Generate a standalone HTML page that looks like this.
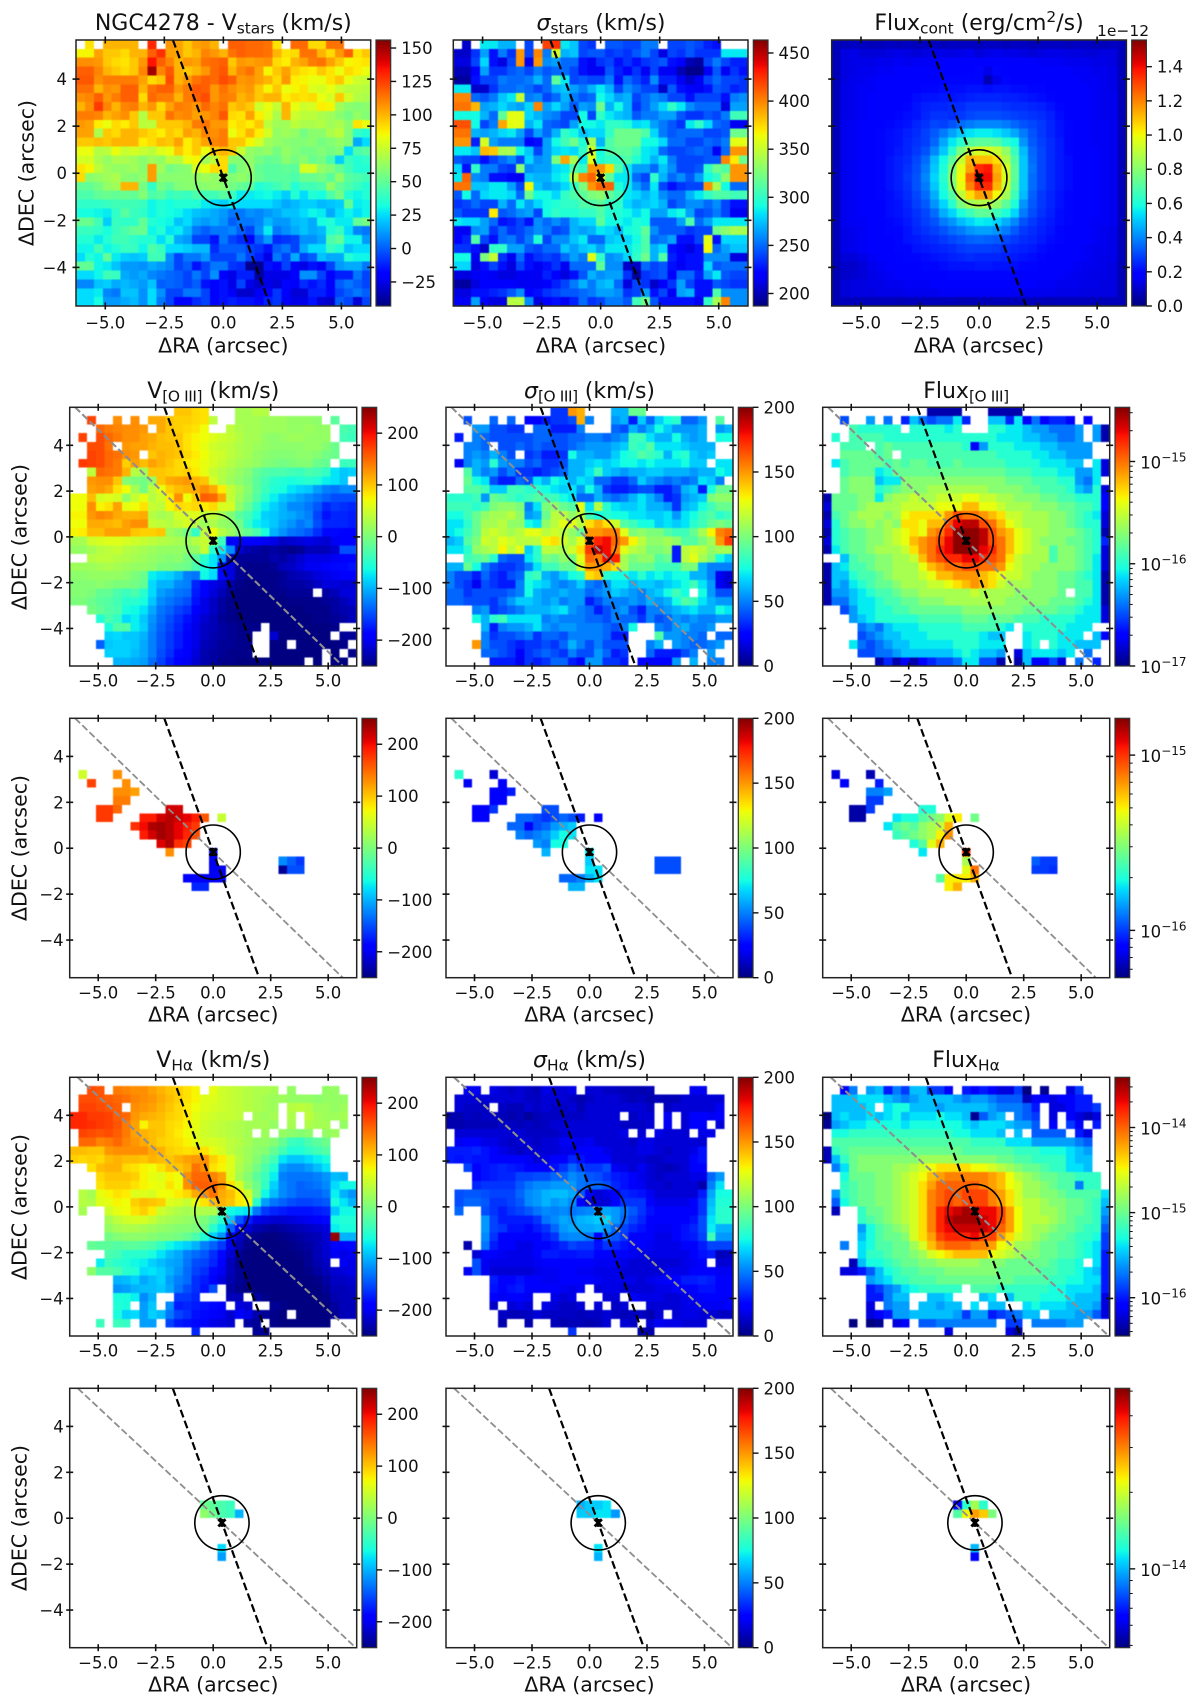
<!DOCTYPE html>
<html lang="en">
<head>
<meta charset="utf-8">
<title>NGC4278 kinematic maps</title>
<style>
html,body{margin:0;padding:0;background:#fff;}
svg{display:block;font-family:"DejaVu Sans","Liberation Sans",sans-serif;fill:#111;}
.title{font-size:22px;text-anchor:middle;}
.axis-label{font-size:20.5px;text-anchor:middle;}
.tick{font-size:16.5px;}
.sub{font-size:15.4px;}
.tight{letter-spacing:-0.4px;}
</style>
</head>
<body>
<svg id="figure" xmlns="http://www.w3.org/2000/svg" width="1200" height="1708" viewBox="0 0 1200 1708">
<defs id="defs"></defs>
<rect width="1200" height="1708" fill="#fff"/>
<g id="maps"></g>

<text class="title" x="223.3" y="30">NGC4278 - V<tspan class="sub" dy="3.5">stars</tspan><tspan dy="-3.5"> (km/s)</tspan></text>
<text class="title" x="601" y="30"><tspan font-style="italic">σ</tspan><tspan class="sub" dy="3.5">stars</tspan><tspan dy="-3.5"> (km/s)</tspan></text>
<text class="title" x="979" y="30">Flux<tspan class="sub" dy="3.5">cont</tspan><tspan dy="-3.5"> (erg/cm</tspan><tspan class="sub" dy="-8">2</tspan><tspan dy="8">/s)</tspan></text>

<text class="title" x="213.3" y="398">V<tspan class="sub tight" dy="3.5">[O III]</tspan><tspan dy="-3.5"> (km/s)</tspan></text>
<text class="title" x="589.5" y="398"><tspan font-style="italic">σ</tspan><tspan class="sub tight" dy="3.5">[O III]</tspan><tspan dy="-3.5"> (km/s)</tspan></text>
<text class="title" x="966" y="398">Flux<tspan class="sub tight" dy="3.5">[O III]</tspan></text>

<text class="title" x="213.3" y="1067">V<tspan class="sub" dy="3.5">Hα</tspan><tspan dy="-3.5"> (km/s)</tspan></text>
<text class="title" x="589.5" y="1067"><tspan font-style="italic">σ</tspan><tspan class="sub" dy="3.5">Hα</tspan><tspan dy="-3.5"> (km/s)</tspan></text>
<text class="title" x="966" y="1067">Flux<tspan class="sub" dy="3.5">Hα</tspan></text>

<text class="axis-label" x="223.3" y="352.5">ΔRA (arcsec)</text>
<text class="axis-label" x="601" y="352.5">ΔRA (arcsec)</text>
<text class="axis-label" x="979" y="352.5">ΔRA (arcsec)</text>
<text class="axis-label" x="213.3" y="1021.5">ΔRA (arcsec)</text>
<text class="axis-label" x="589.5" y="1021.5">ΔRA (arcsec)</text>
<text class="axis-label" x="966" y="1021.5">ΔRA (arcsec)</text>
<text class="axis-label" x="213.3" y="1691.5">ΔRA (arcsec)</text>
<text class="axis-label" x="589.5" y="1691.5">ΔRA (arcsec)</text>
<text class="axis-label" x="966" y="1691.5">ΔRA (arcsec)</text>

<text class="axis-label" transform="translate(33.5,173) rotate(-90)">ΔDEC (arcsec)</text>
<text class="axis-label" transform="translate(26.7,537) rotate(-90)">ΔDEC (arcsec)</text>
<text class="axis-label" transform="translate(26.7,848) rotate(-90)">ΔDEC (arcsec)</text>
<text class="axis-label" transform="translate(26.7,1207) rotate(-90)">ΔDEC (arcsec)</text>
<text class="axis-label" transform="translate(26.7,1518) rotate(-90)">ΔDEC (arcsec)</text>

<text x="1097" y="36" font-size="15.5">1e−12</text>
</svg>
<script>
/* ---------- tick values ---------- */
const xTickValues = [-5, -2.5, 0, 2.5, 5];
const xTickLabels = ['−5.0', '−2.5', '0.0', '2.5', '5.0'];
const yTickValues = [-4, -2, 0, 2, 4];
const yTickLabels = ['−4', '−2', '0', '2', '4'];
const vStarsTicks = [-25, 0, 25, 50, 75, 100, 125, 150];
const sigmaStarsTicks = [200, 250, 300, 350, 400, 450];
const fluxContTicks = [0, 20, 40, 60, 80, 100, 120, 140];
const gasVelocityTicks = [-200, -100, 0, 100, 200];
const gasSigmaTicks = [0, 50, 100, 150, 200];
const fluxO3Decades = [-17, -16, -15];
const fluxO3bDecades = [-16, -15];
const fluxHaDecades = [-16, -15, -14];
const fluxHabDecades = [-14];

/* ---------- map values: rows run top to bottom, blank = no data ---------- */
const vStars = [
[,90,,100,100,100,100,,130,,106,104,96,104,106,100,,118,118,116,116,114,90,,116,116,92,92,114,114,,,],
[86,86,104,96,96,92,100,100,118,128,104,104,96,100,110,106,100,114,118,116,116,114,100,90,92,114,114,100,92,106,118,90,96],
[108,108,106,96,92,90,96,106,134,118,110,100,106,104,114,116,118,96,106,104,106,108,92,88,100,104,112,114,104,96,86,88,90],
[118,118,110,100,96,92,96,110,150,110,120,100,96,100,106,116,120,100,110,114,104,86,96,104,94,90,88,96,90,83,92,88,83],
[120,120,108,112,112,112,112,104,92,96,122,100,106,114,118,116,122,118,106,108,104,100,92,106,88,86,83,83,90,96,83,76,74],
[115,115,100,108,106,118,118,100,114,118,118,106,112,120,118,106,114,108,104,106,96,86,96,83,86,90,80,78,83,76,72,72,70],
[108,110,118,106,112,118,118,92,116,112,112,100,112,118,122,106,112,110,100,104,96,100,100,88,92,90,92,83,78,96,78,70,68],
[100,108,126,110,100,110,112,100,106,92,104,112,110,106,116,110,114,96,100,96,76,83,74,100,83,76,78,88,86,65,60,58,60],
[112,112,110,100,104,108,96,70,96,96,114,108,110,104,106,110,120,92,90,104,88,80,68,100,76,72,72,68,65,60,55,62,58],
[106,104,88,83,92,88,96,72,72,96,96,96,100,112,114,106,106,88,92,88,96,72,65,65,72,68,68,70,65,68,60,90,83],
[104,104,68,96,92,100,100,96,92,88,96,92,104,100,110,108,112,83,90,100,88,78,62,65,62,55,60,60,68,72,58,38,35],
[96,96,98,96,100,100,100,88,92,98,96,104,88,96,104,110,112,96,96,86,78,65,62,60,58,58,60,55,58,62,58,15,25],
[83,83,70,72,83,75,78,75,72,80,83,96,88,96,83,96,100,96,75,62,60,62,55,62,58,55,55,58,55,58,25,45,48],
[78,78,68,62,68,68,65,60,65,62,72,70,83,86,65,72,92,60,58,62,55,50,52,60,55,60,52,55,45,22,40,35,38],
[90,86,72,65,62,62,65,60,105,65,55,58,60,78,83,92,92,45,58,62,50,48,48,50,48,78,78,62,58,50,42,35,35],
[92,60,62,65,68,60,58,62,105,60,60,60,60,62,65,62,62,58,62,58,52,48,48,48,45,52,52,55,48,62,48,45,42],
[50,50,55,62,65,100,100,55,38,55,50,58,60,58,60,62,60,55,50,48,35,38,42,48,35,42,42,45,62,50,45,40,35],
[45,45,50,52,50,52,50,58,45,48,40,42,40,45,42,42,48,40,28,28,30,32,28,22,35,25,35,32,45,55,35,30,35],
[38,38,38,40,42,42,42,40,30,35,32,35,35,35,28,25,22,28,25,25,25,25,20,15,18,22,22,18,20,22,50,28,30],
[32,32,30,28,38,48,40,38,30,35,32,30,25,20,18,15,12,5,5,10,8,12,15,20,20,25,30,28,15,25,30,25,30],
[52,52,42,22,40,38,38,50,35,32,30,20,25,15,12,15,10,0,5,5,8,18,12,12,18,20,15,32,35,28,28,50,55],
[40,40,38,32,40,45,50,52,30,35,25,28,18,5,0,5,5,8,0,-5,10,28,5,10,15,20,15,18,35,40,25,8,5],
[35,35,28,35,42,42,38,35,35,25,35,15,12,-5,-5,-15,5,-5,-10,-18,0,12,-10,-8,-5,10,10,15,45,50,30,30,12],
[30,30,42,30,35,40,40,30,45,40,25,25,22,18,18,-10,0,0,0,-5,-8,-15,0,5,-5,15,25,25,40,35,20,25,25],
[25,35,30,50,28,22,20,22,42,42,10,-5,5,5,12,-5,-5,-5,5,-5,-12,-25,5,-5,15,-5,0,20,15,15,35,30,30],
[50,50,30,28,20,12,12,10,15,12,8,-5,0,-15,-5,5,5,-8,-10,-40,-40,-15,-20,-5,-22,-25,-15,-22,-5,12,15,15,5],
[25,25,30,42,40,15,12,15,8,5,2,0,-5,5,-5,10,-20,-25,-12,-12,-38,-25,-25,-25,-20,10,10,-5,-20,-12,-12,5,-5],
[8,8,20,22,15,18,15,12,20,0,2,0,-5,0,-15,-18,-15,-25,-5,-25,-30,-25,-28,-18,-22,-10,-15,-10,-20,0,5,0,-5],
[25,25,28,8,5,20,20,10,25,10,-5,-5,5,5,-5,-20,-15,-22,-30,-30,-22,-18,-8,-20,-28,-28,-12,-12,-20,-5,0,5,0],
[25,25,32,12,12,15,18,10,25,5,-5,-18,-18,-10,-5,-18,-15,-12,-15,-15,-18,-12,-8,-22,-25,-25,-15,-28,-30,0,-5,-28,-5]
];
const sigmaStars = [
[,205,,285,285,270,270,,240,,420,425,285,275,240,235,,245,245,240,240,255,255,,240,240,245,240,230,225,,,],
[205,205,235,265,225,255,235,395,240,400,255,355,270,275,240,245,245,235,240,235,245,255,240,210,240,235,245,235,235,235,285,285,285],
[210,210,240,280,225,210,240,395,215,395,260,265,250,250,225,215,235,240,225,235,225,235,240,245,225,220,200,195,240,255,240,230,230],
[200,200,220,265,235,235,245,250,240,255,245,250,250,240,225,215,215,245,230,220,235,215,240,215,215,200,190,190,215,245,215,235,225],
[195,195,225,240,240,255,250,250,255,270,250,315,285,240,245,240,240,255,225,250,240,230,260,230,230,215,205,215,240,250,240,240,235],
[285,285,205,205,235,250,250,255,250,240,250,270,275,265,255,270,285,270,240,260,250,240,240,205,245,225,220,215,225,245,240,230,235],
[400,400,250,245,255,275,285,350,255,260,240,250,270,255,245,250,290,280,265,270,240,250,260,255,240,240,225,240,240,240,225,255,260],
[405,405,385,265,270,280,270,265,280,400,265,280,265,245,265,260,320,270,290,270,235,250,265,280,300,285,260,250,250,250,210,265,265],
[290,290,290,270,250,315,360,360,280,270,260,255,240,240,290,240,300,285,275,270,245,255,255,265,265,245,235,235,245,240,255,305,305],
[415,415,290,240,255,390,360,360,270,285,250,245,240,265,290,290,285,300,300,295,280,285,265,255,245,235,285,300,280,250,245,215,215],
[405,405,270,265,270,280,285,265,240,265,250,270,300,290,275,280,280,300,320,320,320,310,280,255,245,250,250,250,240,240,245,320,320],
[395,395,230,355,265,255,255,255,220,225,265,290,305,320,295,340,270,310,320,320,320,290,290,280,250,250,240,240,250,245,255,360,360],
[285,285,275,385,380,340,340,290,275,240,265,280,285,280,300,355,290,310,315,315,305,285,280,250,240,240,245,250,245,215,250,395,395],
[245,240,240,225,240,250,260,240,280,260,265,325,390,340,285,360,295,300,300,310,295,285,270,285,255,240,240,240,245,245,400,370,320],
[280,225,300,255,255,240,235,330,260,265,265,280,285,310,300,395,395,375,310,285,265,265,250,275,260,240,240,245,300,320,310,395,395],
[285,410,260,255,225,225,220,215,275,270,270,285,290,345,400,410,365,315,285,285,250,240,300,270,250,260,245,265,290,300,330,395,395],
[405,405,275,275,285,285,265,240,365,275,265,270,280,300,325,395,410,410,295,285,265,250,285,240,225,235,240,240,395,340,290,250,250],
[245,290,250,280,285,285,280,250,320,290,290,280,300,310,315,325,330,315,305,285,280,270,280,260,250,250,270,285,300,310,310,305,305],
[235,240,250,240,240,270,250,285,265,280,290,295,300,300,310,310,315,300,300,280,270,275,280,270,240,250,260,260,250,260,240,225,225],
[245,235,235,235,370,245,250,260,265,240,290,300,295,295,300,300,310,295,295,290,280,290,265,265,285,290,265,240,245,255,240,215,215],
[285,280,280,265,250,225,230,240,225,260,250,260,250,270,280,280,315,290,290,285,295,290,245,245,245,265,310,250,265,285,285,285,285],
[215,215,260,265,235,250,235,240,250,260,255,240,245,270,265,270,285,280,270,290,295,315,260,245,245,245,235,240,240,320,330,340,340],
[220,230,310,240,225,250,255,240,255,295,240,260,260,275,285,250,250,275,280,280,290,310,250,255,265,225,225,240,360,225,280,280,280],
[235,235,225,205,300,300,265,265,245,240,250,250,275,265,275,280,265,285,285,285,295,310,270,280,225,220,210,225,365,250,265,275,275],
[290,290,215,325,350,235,215,250,225,235,240,235,250,265,255,360,300,260,265,280,300,320,270,310,230,220,225,225,260,260,260,210,210],
[280,280,210,225,240,225,210,240,225,215,225,235,215,250,250,250,315,260,260,205,205,250,240,245,225,215,225,225,280,245,250,250,250],
[210,210,215,220,215,210,210,215,215,215,230,220,210,225,245,270,260,265,265,235,195,235,240,245,220,250,250,230,265,285,245,240,240],
[195,195,210,220,220,220,220,215,215,215,220,230,240,255,270,255,270,275,250,210,240,235,205,220,235,265,240,225,225,245,240,235,235],
[210,210,225,225,230,235,245,260,220,225,235,240,245,245,250,255,265,265,260,235,240,265,225,240,215,265,270,225,225,310,260,260,260],
[215,215,265,220,210,210,345,345,260,210,220,225,215,230,250,235,240,255,255,245,305,320,245,225,225,225,225,215,300,340,400,260,260]
];
const fluxCont = [
[7,8,9,9,8,8,9,8,9,8,9,9,8,9,9,9,8,9,9,8,9,9,8,9,9,9,8,9,9,8,8,9,8],
[8,13,14,12,12,12,13,14,13,12,13,14,14,13,14,15,12,14,15,14,14,13,12,13,14,14,13,13,12,12,13,13,8],
[8,13,14,14,14,15,15,16,15,16,16,16,17,17,17,18,18,18,18,18,17,17,17,16,16,16,15,15,15,14,14,13,8],
[8,13,14,15,15,16,16,17,17,18,18,18,19,19,19,19,20,14,20,19,19,19,18,18,18,17,17,16,16,15,15,14,8],
[8,13,15,15,16,17,17,18,18,19,19,19,20,20,20,20,20,7,15,20,19,19,19,18,18,18,17,17,16,16,15,14,8],
[8,14,15,16,16,17,18,18,19,19,20,20,21,21,21,22,22,21,22,22,21,21,20,20,19,19,18,17,17,16,15,14,8],
[8,14,15,16,17,18,18,19,19,21,22,22,23,22,23,24,25,25,25,24,24,23,22,21,20,19,18,18,17,16,15,15,8],
[8,14,15,16,17,18,19,19,20,22,24,25,25,26,26,28,28,28,28,27,26,26,25,24,22,20,19,18,17,16,15,15,8],
[8,14,15,16,17,18,19,20,21,22,25,27,27,26,28,30,31,31,31,30,29,28,27,26,24,21,19,18,17,16,15,15,8],
[8,15,16,17,18,19,20,21,22,25,27,30,29,32,36,38,40,40,40,38,35,32,30,28,25,22,20,18,17,16,16,15,8],
[8,15,16,17,18,20,21,22,24,26,29,33,38,44,50,54,56,56,54,50,45,38,32,28,25,22,20,19,17,16,16,15,8],
[8,15,16,17,18,20,21,22,25,27,29,35,45,55,62,70,72,72,70,62,58,42,33,29,26,23,20,19,18,16,16,15,8],
[8,15,16,17,18,20,21,23,25,28,32,40,50,62,78,90,95,95,92,82,65,48,35,30,26,23,20,19,18,17,16,15,8],
[8,15,16,17,19,20,22,24,26,30,36,48,58,72,92,112,110,110,105,88,70,50,36,30,26,23,21,19,18,17,16,15,8],
[8,15,16,18,19,20,22,24,27,31,38,50,60,78,98,115,135,138,112,95,72,50,37,30,26,23,21,19,18,17,16,15,8],
[8,15,16,18,19,20,22,24,28,32,40,52,62,80,100,125,142,140,115,95,72,50,36,30,26,23,21,19,18,17,16,15,8],
[8,15,16,17,19,20,22,24,27,32,38,50,60,78,98,120,135,135,112,92,70,50,36,30,26,23,21,19,18,17,16,15,8],
[8,15,16,17,18,20,21,23,26,30,36,46,58,70,90,105,115,115,100,85,66,48,34,28,25,22,20,19,18,17,16,15,8],
[8,15,16,17,18,19,21,22,25,29,33,42,52,62,78,85,88,88,82,72,60,42,33,28,25,22,20,19,18,17,16,15,8],
[8,15,16,17,18,19,21,22,24,27,30,36,46,52,60,66,72,72,66,60,52,38,31,27,24,21,20,19,17,17,16,15,8],
[8,15,16,16,18,19,20,21,23,26,29,32,38,42,48,52,56,55,52,46,40,32,28,25,23,21,20,18,17,16,16,15,8],
[8,14,15,16,17,18,20,20,22,25,27,29,32,36,38,42,44,44,42,38,33,28,26,24,22,20,19,18,17,16,15,14,8],
[8,14,15,16,17,18,19,20,22,23,25,26,28,30,32,34,35,34,33,30,28,26,25,23,21,20,19,18,17,16,15,14,8],
[8,14,15,16,17,18,19,20,20,22,23,24,25,26,28,29,29,29,28,26,25,24,23,21,20,19,18,17,16,15,15,14,8],
[8,12,12,14,16,17,18,19,20,20,21,22,23,24,25,26,25,25,25,24,23,22,21,20,19,18,18,17,16,15,14,14,8],
[7,10,10,12,15,16,17,18,18,19,20,20,21,22,22,22,23,23,22,22,21,20,20,19,18,18,17,16,15,15,14,13,7],
[7,10,11,12,14,15,16,17,17,18,18,19,19,20,20,20,20,20,20,20,19,19,18,18,17,17,16,15,15,14,14,13,7],
[7,12,13,13,14,14,15,15,16,16,16,17,17,18,18,18,18,18,18,18,17,17,17,16,16,15,15,15,14,14,13,13,7],
[7,12,13,13,13,14,14,14,15,15,15,15,16,16,16,16,16,16,16,16,16,15,15,15,15,14,14,14,13,13,13,13,7],
[7,8,8,8,8,8,8,7,8,8,8,8,8,8,7,7,8,7,8,8,8,8,8,8,7,8,8,8,8,8,7,8,8]
];
const vO3 = [
[,,,,,,,,,,,,100,100,90,85,,,,25,25,35,35],
[,,170,,,130,,130,,115,115,100,95,95,90,85,40,,,25,25,25,20,20,20,15,15,15,10,,-20],
[,,,150,140,135,130,130,125,,115,100,95,90,85,70,,,40,30,25,25,20,20,20,15,15,20,15,15,,-30,-35],
[,170,,165,150,140,130,130,120,115,105,100,100,85,75,70,60,50,45,35,25,25,15,10,15,20,20,15,15,15,,-35,-40],
[,,165,165,145,,125,120,120,110,105,105,100,85,75,65,50,45,40,30,25,20,15,10,10,10,10,15,15,5,-10,,],
[,,170,165,150,145,130,125,,100,110,105,100,90,80,70,55,50,40,30,25,15,10,5,5,5,10,10,5,-5,-10,,],
[,175,170,165,150,140,95,120,105,120,110,100,90,80,75,65,55,45,35,25,20,15,5,0,-5,0,5,5,-10,-15,,-40,-40],
[,,40,150,145,140,110,35,25,100,100,95,90,95,80,65,45,35,25,15,5,-15,-25,-30,-30,-35,-40,-30,-35,-45,-75,-90,-85],
[,,125,130,130,100,5,0,-5,15,100,115,120,125,110,100,55,35,20,10,0,-20,-35,-50,-55,-60,-55,-50,-55,-70,-75,-90,],
[,,120,125,115,85,70,25,-5,40,65,95,105,110,115,130,115,80,45,25,5,-20,-40,-55,-60,-75,-85,-90,-110,-125,-130,-120,-120],
[70,70,105,55,60,55,15,45,65,35,50,80,130,70,95,155,150,120,45,20,0,-25,-50,-70,-90,-100,-110,-120,-130,-140,-150,-150,-150],
[70,70,130,75,85,120,65,70,85,45,40,75,90,85,90,80,90,55,55,10,-15,-45,-70,-85,-100,-120,-120,-130,-145,-170,-160,-165,-170],
[75,75,125,135,130,115,110,110,115,35,25,30,55,55,60,40,40,25,5,-20,-35,-60,-85,-90,-100,-105,-115,-125,-155,-180,-170,-170,-175],
[70,70,115,115,110,105,120,130,130,45,40,35,45,55,35,20,30,15,10,-5,-45,-70,-80,-90,-105,-115,-130,-120,-150,-170,-170,-170,-175],
[75,80,105,105,120,120,120,100,95,95,100,20,10,-5,-45,40,70,35,20,0,-15,-30,-60,-100,-115,-130,-135,-145,-165,-185,-185,-190,-190],
[25,25,50,55,60,60,55,50,45,40,35,30,25,20,35,45,20,-40,-190,-195,-190,-195,-200,-205,-220,-215,-210,-205,-210,-215,-200,-190,-190],
[15,15,25,35,40,45,35,30,25,20,15,15,15,10,15,45,-50,-70,-120,-215,-230,-235,-240,-235,-240,-245,-240,-225,-225,-225,-215,-150,-150],
[,,35,40,40,35,30,25,20,15,10,5,10,-5,-20,-50,-75,-115,-235,-240,-240,-240,-240,-230,-235,-225,-215,-205,-205,-205,-200,-195,-190],
[20,20,20,25,30,25,20,15,15,10,0,0,-5,-10,-30,-60,-75,-190,-210,-240,-245,-245,-245,-240,-225,-220,-210,-200,-200,-190,-185,-185,-180],
[10,10,15,15,15,15,10,0,-10,-70,-80,-85,-100,-125,-130,-65,-80,-185,-210,-240,-245,-245,-245,-245,-240,-230,-225,-220,-210,-205,-200,-195,-190],
[5,5,5,10,5,0,0,-5,-15,-80,-100,-100,-120,-125,-170,-190,-205,-215,-235,-245,-250,-250,-245,-245,-240,-235,-235,-230,-220,-210,-210,-215,-215],
[5,5,0,-15,-15,-30,-40,-30,-50,-80,-110,-120,-130,-135,-175,-195,-210,-225,-240,-250,-250,-250,-250,-245,-245,-240,-240,-240,,-235,-225,-210,-210],
[0,0,-10,-20,-25,-35,-50,-50,-60,-90,-120,-130,-140,-150,-180,-205,-220,-235,-245,-250,-250,-250,-250,-250,-250,-245,-245,-245,-245,-240,-235,-225,-215],
[,,-5,-15,-25,-30,-60,-65,-75,-105,-130,-140,-155,-165,-195,-205,-220,-235,-245,-250,-250,-250,-250,-250,-250,-250,-250,-245,-245,-245,-235,-230,-225],
[,,,-55,-30,-45,-80,-70,-90,-115,-135,-150,-165,-180,-200,-215,-225,-240,-245,-250,-250,-250,-250,-250,-250,-250,-250,-250,-245,-245,-240,-235,-225],
[,,,,-60,-25,-25,-70,-85,-120,-140,-155,-170,-185,-205,-220,-225,-235,-240,-245,-245,-245,,-250,-250,-250,-250,-250,-250,-250,-245,,],
[,,,,-85,-80,-90,-90,-100,-125,-145,-160,-175,-190,-205,-220,-230,-235,-240,-245,-245,,,-215,-250,-250,-250,-250,-250,-250,,-240,-240],
[,,,-140,-90,-85,-85,-90,-105,-125,-145,-160,-175,-190,-205,-225,-230,-240,-240,-245,-245,,,-250,-250,,-250,-250,-250,-250,-250,-245,],
[,,,,-85,-85,-85,-95,-105,-125,-150,-165,-185,-195,-210,-230,-235,-240,-245,-245,-245,,,-250,-250,-250,-250,-250,-250,,-250,,-245],
[,,,,,-100,-100,-105,-110,-135,-155,-175,-190,-200,-215,-230,-235,-245,-245,-250,-250,-250,-250,-250,-250,-250,-250,,-250,,-250,-250,]
];
const sigmaO3 = [
[,,,,,,,,,,,,35,35,150,145,,,,60,60,95,95],
[,,40,,,45,,45,,25,25,30,35,35,40,145,50,,,55,60,30,65,45,65,75,80,45,45,55,,90,],
[,,,55,55,40,40,35,35,,45,45,30,30,30,50,,,,45,40,60,50,60,75,65,55,55,55,60,,55,60],
[,30,,50,45,40,40,40,40,40,45,45,40,40,45,45,50,50,45,50,55,85,85,70,60,60,75,60,55,60,,75,75],
[,,50,50,45,,40,40,45,40,45,40,40,40,45,50,55,55,55,60,65,85,80,90,70,70,70,65,60,60,60,,],
[,,50,55,50,60,50,40,,35,40,30,30,35,75,60,60,55,55,65,75,80,90,85,80,60,75,80,65,60,65,,],
[,20,50,60,55,80,55,50,50,40,45,35,35,40,60,60,65,70,65,70,75,75,70,75,70,70,70,75,65,65,,70,70],
[,,90,60,50,55,40,50,35,35,30,35,40,45,60,60,70,85,65,60,55,60,60,65,65,60,60,60,55,60,60,75,70],
[,,95,75,70,40,30,30,45,40,70,60,75,70,60,70,65,45,45,35,35,45,65,55,50,45,50,45,50,70,65,50,],
[,,90,90,85,65,65,85,85,80,80,75,70,65,70,55,75,60,35,30,30,35,40,40,30,30,40,60,65,30,75,95,95],
[80,80,80,85,55,95,90,85,80,85,90,85,85,75,70,45,45,60,50,45,50,60,70,60,50,30,35,55,60,65,100,105,105],
[85,85,85,80,85,100,105,105,100,50,70,100,105,95,90,125,70,115,80,70,65,65,70,60,60,55,35,60,65,75,85,95,95],
[75,75,85,95,105,110,110,115,105,55,60,95,115,115,105,115,85,75,80,75,75,70,70,65,65,70,55,70,75,85,90,80,85],
[70,70,80,95,110,110,115,105,105,75,70,105,115,125,125,115,135,145,135,120,90,85,75,75,65,70,65,70,80,85,95,100,95],
[70,75,85,95,115,120,115,110,115,125,125,115,120,115,105,95,150,150,155,155,125,100,105,100,100,90,85,85,95,110,130,155,160],
[60,65,90,100,120,115,125,120,115,115,115,130,135,120,110,125,160,175,180,160,150,130,115,105,105,110,105,90,90,100,110,150,170],
[70,70,80,105,110,115,130,115,125,65,80,115,115,110,120,135,170,190,180,155,125,115,110,100,100,105,30,115,120,115,105,110,110],
[,,85,90,95,80,45,40,40,70,80,100,95,105,100,125,160,155,180,175,110,100,105,105,90,95,30,115,125,110,100,75,65],
[60,60,95,75,50,40,35,35,40,50,70,85,85,95,95,120,150,150,145,135,110,95,95,95,85,85,85,100,100,60,50,50,50],
[50,40,40,30,45,35,30,40,45,80,85,60,55,65,75,80,135,140,80,75,75,70,80,70,75,70,75,75,60,60,50,20,15],
[50,40,35,20,40,35,30,30,50,75,70,65,55,50,55,65,50,45,55,70,70,60,65,65,60,65,70,75,85,70,55,20,15],
[45,45,35,40,40,40,40,45,50,75,60,55,55,60,55,55,45,50,55,65,60,55,50,60,65,75,85,75,,75,55,40,40],
[45,45,40,40,40,35,45,55,65,65,60,55,60,50,55,55,30,40,50,50,50,55,50,60,55,60,75,90,85,70,60,55,55],
[,,,50,55,35,40,45,50,60,60,60,65,70,55,50,45,30,40,50,55,40,30,50,50,55,60,65,70,60,60,75,70],
[,,,75,60,80,85,70,70,70,70,50,55,50,50,50,45,45,40,50,45,45,35,50,40,45,55,50,55,50,50,55,55],
[,,,,60,30,50,55,55,60,70,55,50,55,55,50,50,50,45,40,50,75,,,50,45,55,60,50,50,55,,],
[,,,,50,35,40,40,45,50,35,45,45,40,50,50,50,50,45,30,30,,,,90,55,55,50,50,45,,45,45],
[,,,150,50,40,40,35,30,35,35,40,35,45,60,50,40,50,40,40,40,,,50,60,,55,50,45,45,50,55,],
[,,,,45,45,40,35,25,35,40,45,40,35,50,40,40,55,45,30,35,,,45,30,30,30,40,50,,55,,],
[,,,,,30,30,30,20,35,30,35,45,45,30,25,55,55,35,35,30,,25,25,25,25,55,,60,,50,50,]
];
const fluxO3 = [
[,,,,,,,,,,,,1,1,1,1,,,,1,1,1,1],
[,,5,,,7,,6,,4,8,6,5,6,6,9,4,,,8,8,4,9,3,6,3,4,4,3,,3,,],
[,,,11,10,10,10,10,10,,10,10,10,10,9,10,,,,10,10,9,9,8,7,7,6,6,6,7,,7,1],
[,10,,11,11,11,11,10,10,10,10,10,10,10,10,10,10,10,10,10,9,9,9,8,8,7,7,6,6,7,,7,1],
[,,11,11,11,,11,12,11,11,11,11,11,11,11,11,10,3,7,10,10,10,9,9,9,8,8,7,7,7,7,,],
[,,12,12,12,12,11,12,,11,11,11,11,11,11,11,11,11,11,11,10,10,10,10,9,9,8,8,7,7,7,,],
[,9,11,12,12,12,12,11,12,11,12,12,11,11,11,12,11,11,11,11,11,10,10,10,10,9,9,9,8,8,,9,2],
[,,11,12,12,12,9,10,12,12,12,12,12,12,12,12,12,12,12,12,12,11,11,11,10,10,10,9,9,7,7,9,2],
[,,12,13,13,13,8,9,9,13,13,13,13,13,13,13,13,13,13,13,13,12,12,12,11,11,11,10,10,7,6,9,],
[,,12,13,13,13,10,11,12,13,13,13,14,14,14,14,14,14,14,13,13,13,13,12,12,11,11,11,10,8,7,10,2],
[1,12,12,12,13,13,9,13,14,14,15,14,14,15,15,15,16,16,15,15,14,14,13,13,13,12,12,11,11,10,10,10,3],
[2,12,12,12,13,14,14,14,14,15,15,15,15,16,16,16,18,18,16,16,15,14,14,14,13,13,13,12,12,11,11,10,3],
[1,11,12,13,14,14,14,13,14,16,17,17,17,17,19,21,20,20,19,18,17,15,15,14,14,14,13,13,12,11,10,9,2],
[2,10,12,13,13,14,13,14,13,17,17,16,18,18,21,23,24,24,21,20,18,16,15,14,14,14,13,13,12,11,10,10,2],
[1,10,11,12,12,13,13,14,15,16,17,16,19,20,22,25,25,25,24,21,19,18,16,15,14,14,13,13,13,12,11,10,1],
[2,10,11,12,12,13,13,14,15,16,18,19,20,21,23,25,25,25,24,21,20,18,16,15,14,13,13,13,12,12,11,10,4],
[1,9,11,12,12,13,14,14,14,15,17,19,20,22,23,25,25,25,23,22,20,18,16,15,14,14,11,13,13,12,11,10,2],
[,,8,11,12,12,13,13,14,14,15,18,20,21,22,22,23,23,22,21,20,17,15,14,14,14,11,13,13,12,11,9,2],
[1,8,9,11,11,12,13,13,14,14,14,16,18,19,20,20,21,21,20,20,19,16,15,14,14,13,13,13,13,12,11,9,2],
[1,8,8,10,11,11,12,13,14,14,14,15,16,18,18,19,19,19,18,17,16,15,15,14,13,13,13,12,12,11,10,9,1],
[1,8,7,9,10,11,12,12,13,14,14,14,15,15,16,17,18,19,18,17,15,14,14,14,13,13,13,12,12,11,11,9,1],
[1,7,7,8,9,10,11,11,12,13,13,14,14,14,14,14,14,15,14,14,14,14,13,13,13,13,13,12,,11,11,9,1],
[1,6,6,8,9,9,10,11,11,12,12,13,13,13,14,14,14,14,14,14,14,13,13,13,13,13,12,12,12,11,10,9,1],
[,,5,7,9,9,10,10,11,11,12,12,12,12,12,12,13,13,13,13,13,13,13,12,12,12,12,11,11,10,9,9,2],
[,,,7,8,9,10,10,10,10,10,11,11,11,11,11,12,12,12,11,12,12,11,11,11,10,10,10,10,9,9,9,2],
[,,,,6,7,6,8,9,9,9,10,10,10,10,10,11,11,11,11,10,9,,10,10,10,10,10,9,9,9,,],
[,,,,5,6,7,8,8,9,9,9,10,10,10,10,10,10,9,8,8,,,9,10,10,10,9,9,9,,8,3],
[,,,9,6,5,6,7,8,8,9,9,9,9,9,10,10,10,9,9,9,,,9,10,,10,9,9,8,8,8,],
[,,,,5,5,6,6,7,8,8,8,8,8,8,9,10,9,8,8,7,,2,8,9,9,9,8,9,,6,,],
[,,,,,,1,4,1,3,1,3,4,5,5,6,9,9,5,5,1,,1,8,3,3,5,2,,6,,4,]
];
const vO3Broad = [
[],[],[],[],[],[],
[,50,,,,130],
[,,170,,,,130],
[,,,,,130,130,120],
[,,,,,140,140],
[,,,175,175,150,,,,,,215,215],
[,,,175,175,,,,190,190,215,225,215,205,190,160,,45],
[,,,,,,,180,200,230,235,225,205,190,175],
[,,,,,,,,190,215,235,225,205,185,165],
[,,,,,,,,,,210,230,180,170],
[,,,,,,,,,,,130,,,,,-190],
[,,,,,,,,,,,,,,,,-200,,,,,,,,-120,-140,-160],
[,,,,,,,,,,,,,,,,-200,-200,,,,,,,-240,-150,-150],
[,,,,,,,,,,,,,-190,-190,-200,-200,-190],
[,,,,,,,,,,,,,,-170,-170]
];
const sigmaO3Broad = [
[],[],[],[],[],[],
[,80,,,,15],
[,,20,,,,25],
[,,,,,25,25,30],
[,,,,,25,25],
[,,,25,25,35,,,,,,40,40],
[,,,25,25,,,,45,45,40,35,40,45,40,30,,25],
[,,,,,,,45,45,25,40,45,55,60,65],
[,,,,,,,,50,45,50,55,65,75,70],
[,,,,,,,,,,55,50,75,75],
[,,,,,,,,,,,60,,,,,70],
[,,,,,,,,,,,,,,,,65,,,,,,,,40,40,40],
[,,,,,,,,,,,,,,,,70,70,,,,,,,40,40,40],
[,,,,,,,,,,,,,45,45,50,60,70],
[,,,,,,,,,,,,,,60,60]
];
const fluxO3Broad = [
[],[],[],[],[],[],
[,8.5,,,,8],
[,,9,,,,9.5],
[,,,,,11,11,11.5],
[,,,,,10,10],
[,,,7.8,7.8,10,,,,,,13,13],
[,,,7.8,7.8,,,,12.5,13,13,14,14.5,15,16.5,17,,14.5],
[,,,,,,,12.5,14,14.5,14,15,15.5,16,18],
[,,,,,,,,13.5,14,14.5,15,15.5,17,18.5],
[,,,,,,,,,,13,14,16.5,18],
[,,,,,,,,,,,12.5,,,,,20],
[,,,,,,,,,,,,,,,,15.5,,,,,,,,10.5,10,10],
[,,,,,,,,,,,,,,,,16.5,19,,,,,,,10,10,9.8],
[,,,,,,,,,,,,,14,17,17,17,18],
[,,,,,,,,,,,,,,17,18]
];
const vHa = [
[],
[,,165,160,,140,135,130,130,120,110,100,95,85,75,,65,50,45,40,35,30,30,25,,15,,,,15,15,,],
[,165,165,160,155,150,145,135,130,125,115,105,95,85,75,60,60,50,45,40,35,30,25,20,20,15,15,15,10,15,15,15,],
[,170,170,165,160,155,,130,125,120,110,100,90,80,70,60,55,50,45,40,35,30,25,20,,35,40,35,20,20,15,20,],
[185,185,175,175,170,155,150,125,115,110,105,95,90,80,65,55,50,45,45,40,,25,20,25,,30,,40,25,20,20,25,],
[185,185,180,175,170,160,140,120,75,100,100,90,85,75,65,50,45,40,35,30,25,25,25,15,,25,,30,25,25,,15,],
[,170,165,160,165,155,140,120,110,105,100,90,80,70,60,50,45,40,35,30,25,,20,,15,10,5,10,,15,20,,],
[,150,150,135,140,150,135,125,115,105,95,90,85,75,65,55,55,50,40,35,25,15,15,5,-15,-40,-45,-30,-20,-10,,,],
[105,105,100,100,125,130,130,130,130,115,110,95,90,85,90,85,65,55,40,30,20,10,5,-15,-35,-55,-55,-45,-35,-25,,,],
[95,90,95,90,105,110,105,105,100,110,105,100,110,120,125,130,95,80,60,35,20,5,-15,-35,-75,-90,-90,-80,-70,-60,,,],
[,,85,105,110,110,90,85,75,70,85,100,100,110,145,130,85,75,60,30,15,-5,-30,-55,-110,-120,-120,-110,-95,-75,,,],
[,,,90,100,100,100,95,75,65,60,75,70,130,150,150,135,120,60,25,5,-20,-40,-70,-125,-130,-130,-130,-125,-115,-95,-100,],
[,,,85,95,95,95,85,75,70,65,85,70,130,155,155,150,125,85,55,15,-10,-45,-85,-120,-130,-140,-135,-130,-120,-80,-65,-65],
[,35,25,65,75,85,80,60,60,55,70,70,80,90,115,130,145,115,105,80,50,-5,-65,-95,-120,-130,-140,-140,-140,-130,-70,-100,-115],
[,35,30,60,65,75,70,95,105,100,95,60,55,45,65,85,105,110,100,80,70,-50,-110,-130,-140,-150,-155,-155,-150,-145,-60,-75,-100],
[,25,,,50,65,70,85,95,80,50,40,30,25,30,30,30,-5,-65,-70,-75,-130,-160,-170,-175,-180,-180,-180,-175,-170,-90,-65,-65],
[,,,,25,40,50,55,55,45,30,25,20,15,10,0,-20,-50,-90,-145,-175,-205,-210,-215,-215,-210,-205,-200,-195,-185,-60,-55,-55],
[,,,,15,25,30,30,25,20,15,10,5,5,0,-10,-50,-75,-140,-190,-215,-230,-235,-240,-235,-230,-225,-220,-215,-210,-70,-60,-60],
[,,,,-5,5,10,10,10,5,0,0,-5,-15,-30,-55,-85,-115,-195,-220,-240,-245,-250,-250,-245,-240,-235,-230,-225,-215,240,-100,-100],
[,,-15,-20,-20,-25,-20,-20,-25,-30,-45,-65,-75,-85,-100,-125,-140,-160,-205,-230,-245,-250,-250,-250,-250,-245,-240,-235,-225,-215,-190,-190,-185],
[,,,,-30,-35,-50,-50,-50,-60,-75,-95,-105,-125,-135,-145,-165,-185,-215,-240,-250,-250,-250,-250,-250,-250,-245,-240,-225,-215,-200,-205,-200],
[,,,-70,-40,-50,-55,-65,-70,-85,-95,-105,-110,-130,-150,-155,-170,-195,-225,-245,-250,-250,-250,-250,-250,-250,-250,-240,-230,-220,,-200,-205],
[,,10,-25,-25,-30,-50,-55,-80,-75,-85,-100,-115,-135,-155,-165,-185,-200,-225,-240,-250,-250,-250,-250,-250,-250,-250,-245,-235,-225,-215,-210,-205],
[,,,,,-100,-95,-85,-105,-95,-85,-110,-125,-135,-165,-175,-190,-210,-230,-240,-250,-250,-250,-250,-250,-250,-250,-250,-245,-235,-220,-220,-215],
[,,,,,-115,-110,-100,-95,-95,-90,-105,-130,-150,-165,-180,-150,,-235,-245,-250,-250,-250,-250,-250,-250,-250,-250,-250,-240,-225,-225,-220],
[,,,,,-60,-60,-70,-120,-100,,,-160,-160,-170,,,,-225,-225,,-235,-245,-250,-250,-250,-250,-250,-250,-245,-230,-225,-225],
[,,,,,-55,-60,,-110,-90,,-120,-175,-170,-175,-180,-185,-190,,-210,-215,,,-240,-245,-250,-250,-250,-250,-250,-235,-225,-225],
[,,,,,-60,-85,-80,-110,-85,-95,-130,-155,-165,-180,-185,-190,-200,-215,-195,-205,-230,-240,-245,-250,,-250,-250,-250,-250,-240,-225,-225],
[,,,-40,,-40,-45,,-110,-110,,-155,-175,-180,-185,-190,-205,-210,-215,,-235,-240,,-245,-250,-250,-250,-250,-250,-250,,,],
[,,,,,,,,,,,,,,-170,,,,,,,-240,-240]
];
const sigmaHa = [
[],
[,,20,20,,18,15,12,15,12,10,18,15,15,18,,15,15,12,12,10,10,8,10,,,,,20,20,,,],
[,15,15,15,15,15,15,15,15,12,12,15,15,15,12,8,12,15,15,15,12,10,12,8,10,10,10,15,15,15,15,15,],
[,15,12,12,12,,12,10,10,15,12,15,12,12,15,10,15,15,15,15,15,15,15,12,,12,15,15,15,15,15,20,],
[8,8,12,10,12,12,10,8,10,5,10,12,12,12,12,12,15,15,15,15,,12,15,15,,20,,15,25,25,20,25,],
[8,8,10,10,10,10,12,12,10,12,10,12,15,15,15,15,15,15,15,15,12,12,12,15,,20,,15,25,25,,15,],
[,15,15,15,15,15,15,15,15,12,12,12,12,15,15,15,15,15,15,15,18,,15,,18,15,15,15,,18,18,,],
[,20,25,22,18,18,15,12,15,15,12,15,15,20,20,18,20,15,15,15,15,12,18,18,15,15,15,15,15,15,,,],
[30,30,30,32,28,22,18,15,12,15,15,15,15,18,18,22,25,25,18,15,15,15,18,18,15,12,15,15,18,28,,,],
[30,28,30,28,28,25,25,25,22,20,15,18,22,25,32,28,25,25,25,15,15,15,15,12,12,15,15,15,25,28,,,],
[,,38,22,28,30,32,30,28,25,22,22,28,35,45,38,35,35,40,20,18,15,20,15,12,10,12,15,22,25,,,],
[,,,22,28,30,32,32,38,38,40,40,45,45,52,48,42,40,35,30,28,22,18,15,12,15,15,15,18,18,45,55,],
[,,,32,35,35,35,35,42,48,52,52,55,55,55,48,45,45,40,32,28,25,20,15,15,12,15,15,15,8,50,70,],
[,40,42,42,40,38,38,38,45,52,55,60,62,62,58,42,20,15,18,25,32,30,28,20,15,15,15,15,15,30,58,75,75],
[,40,45,45,42,35,35,38,42,52,55,60,55,58,52,22,15,15,15,22,35,35,35,22,18,18,18,18,22,35,62,78,78],
[,45,,,40,35,30,35,38,42,48,52,50,52,48,50,52,55,58,55,48,42,35,28,22,22,22,22,22,35,65,80,80],
[,,,,55,38,30,30,30,30,35,48,52,58,55,60,62,65,68,55,45,38,32,25,22,22,22,25,28,40,70,80,80],
[,,,,55,38,35,28,28,25,30,35,45,55,58,58,58,60,55,45,38,32,28,22,20,20,22,28,32,40,72,60,60],
[,,,,52,35,25,22,22,22,25,30,35,50,52,52,48,25,45,42,35,25,25,22,18,18,22,28,30,38,85,55,55],
[,,8,,48,30,22,22,18,18,22,25,28,32,38,35,35,28,35,32,28,25,22,20,18,18,18,22,25,30,38,38,38],
[,,,15,22,22,20,18,18,18,22,30,30,28,28,30,30,25,25,22,22,20,18,18,18,18,18,18,22,28,30,10,12],
[,,,40,20,18,18,18,18,18,20,22,22,22,22,22,22,20,20,20,18,15,15,15,15,15,15,18,20,22,,15,15],
[,,20,40,20,15,15,15,15,15,18,20,20,22,22,20,20,18,18,18,15,15,15,15,15,18,18,18,22,25,25,20,20],
[,,,,,30,25,25,28,25,22,20,20,22,25,25,22,20,18,18,18,18,15,18,20,22,25,30,30,32,30,22,22],
[,,,,,28,25,28,30,25,25,25,22,20,18,20,,15,18,18,15,15,15,15,18,18,22,25,25,28,28,25,25],
[,,,,,25,20,22,25,20,,,18,15,18,,,,15,15,,22,18,18,18,15,15,18,20,22,22,22,22],
[,,,,,12,,15,18,15,,18,15,12,12,15,,15,,12,15,,,15,15,15,15,18,18,20,20,20,22],
[,,,,,,12,10,10,12,15,12,12,12,12,10,12,12,15,12,10,12,12,8,15,,15,18,18,15,15,12,12],
[,,,,,,8,,,8,,,10,8,10,10,8,10,15,,15,12,,15,20,18,18,15,15,15,,,],
[,,,,,,,,,,,,,,35,,,,,,,,8,8]
];
const fluxHa = [
[],
[,,9,13,,14,15,10,13,11,15,15,11,11,9,,10,9,10,9,8,8,11,5,,6,,,8,11,,,],
[,15,15,15,16,16,16,15,14,13,14,15,15,15,15,14,13,14,14,13,12,12,12,7,9,9,8,9,9,10,10,,],
[,15,15,15,15,16,,16,17,17,15,15,15,14,15,15,15,15,15,14,13,13,13,12,10,,8,8,9,10,10,11,],
[5,15,16,15,15,16,15,16,17,15,16,16,16,17,16,16,15,6,12,14,15,,13,12,11,,8,,9,8,7,8,],
[6,14,15,16,16,17,17,17,17,16,17,17,17,17,17,17,16,15,16,16,16,15,14,14,12,,9,,11,9,,10,],
[,17,17,18,18,18,18,18,18,18,18,18,18,18,18,17,17,16,16,16,15,,15,,12,12,12,12,,10,8,,],
[,19,19,19,19,19,19,19,19,19,19,19,19,19,19,19,19,18,18,18,18,16,16,16,14,14,14,14,14,13,12,,],
[7,18,19,20,20,20,20,20,20,20,20,20,20,20,20,20,19,19,19,19,19,19,18,18,18,17,17,17,16,15,14,,],
[7,15,18,20,21,21,21,21,21,21,21,22,22,22,22,21,21,21,21,21,20,20,19,19,18,18,18,18,16,15,15,,],
[,13,16,20,21,21,21,21,22,22,23,24,25,26,26,26,26,25,25,24,23,22,21,20,20,19,18,18,16,16,15,,],
[,,17,20,20,20,21,21,22,23,24,25,27,28,29,29,29,29,29,28,27,25,23,22,21,20,20,19,19,18,18,18,],
[,,18,19,20,20,21,21,22,23,24,26,28,30,30,30,30,30,29,28,27,25,24,22,22,21,20,19,19,13,18,18,],
[,14,18,19,20,20,21,21,22,23,24,26,29,30,31,30,31,31,31,29,28,26,24,22,22,21,21,20,19,19,19,19,16],
[,12,17,19,20,20,21,21,22,23,24,26,29,30,31,30,31,31,31,29,28,26,24,23,23,22,21,21,20,20,19,18,15],
[,7,,,18,20,20,21,22,23,24,26,29,32,33,34,35,34,33,33,31,28,25,23,23,22,22,21,20,20,19,18,14],
[,,,,18,19,20,21,22,23,24,26,29,32,34,35,35,35,34,33,31,28,25,23,23,23,22,21,20,19,19,18,13],
[,,,,14,17,19,20,21,22,24,26,29,32,33,34,34,34,34,33,30,28,25,23,22,22,21,20,20,19,18,18,12],
[,,,,15,17,19,20,20,21,24,26,28,31,32,32,32,33,31,31,28,26,24,23,22,21,20,20,19,18,18,17,11],
[,,13,,16,17,19,19,20,20,22,24,27,29,30,30,30,29,29,28,25,24,22,22,21,20,20,19,19,18,17,16,11],
[,,,,16,18,18,19,20,20,21,22,24,25,26,27,27,27,27,25,24,23,22,21,21,20,20,19,19,18,17,16,10],
[,,,7,15,17,17,18,19,20,20,21,21,22,22,22,22,22,21,21,21,20,20,20,20,20,19,18,18,17,,16,10],
[,,8,8,10,12,15,17,18,19,19,20,20,20,21,21,21,21,21,21,20,20,20,20,20,19,19,18,18,17,16,15,10],
[,,,,,14,15,16,18,18,19,19,19,20,20,20,20,20,20,20,20,20,19,19,19,19,18,18,17,17,16,16,10],
[,,,,,10,11,13,14,16,17,18,18,18,18,18,,19,19,19,18,18,18,18,18,18,17,17,16,16,16,15,10],
[,,,,,10,10,13,15,15,,,15,15,16,,,,15,16,,15,18,18,18,17,17,17,16,15,15,15,8],
[,,,,,8,,13,14,14,,15,15,14,15,15,,16,,15,15,,,16,17,16,16,16,15,15,15,14,8],
[,,,,,8,9,10,14,14,15,15,15,15,15,14,11,14,14,10,11,12,13,15,15,,15,15,15,14,14,12,8],
[,,,5,,5,6,,8,9,,12,12,13,13,13,13,13,13,13,,11,11,,13,13,13,13,14,14,,,],
[,,,,,,,,,,,,,,8,,,,,,,8,6]
];
const vHaBroad = [
[],[],[],[],[],[],[],[],[],[],[],[],[],
[,,,,,,,,,,,,,,,-10,-20,-30,-40],
[,,,,,,,,,,,,,,,10,-10,-30,-40,-100],
[],[],[],
[,,,,,,,,,,,,,,,,,-80],
[,,,,,,,,,,,,,,,,,-110]
];
const sigmaHaBroad = [
[],[],[],[],[],[],[],[],[],[],[],[],[],
[,,,,,,,,,,,,,,,60,65,65,70],
[,,,,,,,,,,,,,,,65,65,70,70,55],
[],[],[],
[,,,,,,,,,,,,,,,,,70],
[,,,,,,,,,,,,,,,,,60]
];
const fluxHaBroad = [
[],[],[],[],[],[],[],[],[],[],[],[],[],
[,,,,,,,,,,,,,,,28,31,32.5,31],
[,,,,,,,,,,,,,,,31.5,33.5,34.5,34,32],
[],[],[],
[,,,,,,,,,,,,,,,,,30],
[,,,,,,,,,,,,,,,,,28]
];

/* ---------- layout ---------- */
const NS = 'http://www.w3.org/2000/svg';
const X_LIM = [-6.24, 6.24];
const Y_LIM = [-5.64, 5.66];
const N_COLS = 33;
const N_ROWS = 30;
const SCALE_LINEAR = 'linear';
const SCALE_LOG = 'log';

const rowLayouts = [
  {top:40, bottom:306, lefts:[76,453.3,831.7], width:294.7, cbGap:5.3, tickDy:22.3, yLabelGap:9, showGrey:false, greyWidth:2, cx:0, cy:-0.19, greySlope:1.03},
  {top:407.3, bottom:666, lefts:[69.7,446,822.7], width:287, cbGap:5.3, tickDy:20.7, yLabelGap:6, showGrey:true, greyWidth:2.1, cx:0, cy:-0.17, greySlope:1.03},
  {top:718.3, bottom:977.7, lefts:[69.7,446,822.7], width:287, cbGap:5.3, tickDy:20.7, yLabelGap:6, showGrey:true, greyWidth:1.8, cx:0, cy:-0.17, greySlope:1.03},
  {top:1077.3, bottom:1336, lefts:[69.7,446,822.7], width:287, cbGap:5.3, tickDy:20.7, yLabelGap:6, showGrey:true, greyWidth:2.1, cx:0.38, cy:-0.2, greySlope:1.07},
  {top:1388.3, bottom:1647.7, lefts:[69.7,446,822.7], width:287, cbGap:5.3, tickDy:20.7, yLabelGap:6, showGrey:true, greyWidth:1.8, cx:0.38, cy:-0.2, greySlope:1.07}
];

const panelSpecs = [
  {name:'v-stars', row:0, col:0, values:vStars, lo:-43, hi:156, kind:SCALE_LINEAR, ticks:vStarsTicks, fmt:v=>String(v)},
  {name:'sigma-stars', row:0, col:1, values:sigmaStars, lo:187, hi:463.5, kind:SCALE_LINEAR, ticks:sigmaStarsTicks, fmt:v=>String(v)},
  {name:'flux-cont', row:0, col:2, values:fluxCont, lo:0, hi:155.6, kind:SCALE_LINEAR, ticks:fluxContTicks, fmt:v=>(v/100).toFixed(1)},
  {name:'v-oiii', row:1, col:0, values:vO3, lo:-250, hi:250, kind:SCALE_LINEAR, ticks:gasVelocityTicks, fmt:v=>String(v)},
  {name:'sigma-oiii', row:1, col:1, values:sigmaO3, lo:0, hi:200, kind:SCALE_LINEAR, ticks:gasSigmaTicks, fmt:v=>String(v)},
  {name:'flux-oiii', row:1, col:2, values:fluxO3, lo:0, hi:25.3, kind:SCALE_LOG, ticks:fluxO3Decades},
  {name:'v-oiii-broad', row:2, col:0, values:vO3Broad, lo:-250, hi:250, kind:SCALE_LINEAR, ticks:gasVelocityTicks, fmt:v=>String(v)},
  {name:'sigma-oiii-broad', row:2, col:1, values:sigmaO3Broad, lo:0, hi:200, kind:SCALE_LINEAR, ticks:gasSigmaTicks, fmt:v=>String(v)},
  {name:'flux-oiii-broad', row:2, col:2, values:fluxO3Broad, lo:7.3, hi:22.1, kind:SCALE_LOG, ticks:fluxO3bDecades},
  {name:'v-halpha', row:3, col:0, values:vHa, lo:-250, hi:250, kind:SCALE_LINEAR, ticks:gasVelocityTicks, fmt:v=>String(v)},
  {name:'sigma-halpha', row:3, col:1, values:sigmaHa, lo:0, hi:200, kind:SCALE_LINEAR, ticks:gasSigmaTicks, fmt:v=>String(v)},
  {name:'flux-halpha', row:3, col:2, values:fluxHa, lo:5.5, hi:35.9, kind:SCALE_LOG, ticks:fluxHaDecades},
  {name:'v-halpha-broad', row:4, col:0, values:vHaBroad, lo:-250, hi:250, kind:SCALE_LINEAR, ticks:gasVelocityTicks, fmt:v=>String(v)},
  {name:'sigma-halpha-broad', row:4, col:1, values:sigmaHaBroad, lo:0, hi:200, kind:SCALE_LINEAR, ticks:gasSigmaTicks, fmt:v=>String(v)},
  {name:'flux-halpha-broad', row:4, col:2, values:fluxHaBroad, lo:26.9, hi:37.1, kind:SCALE_LOG, ticks:fluxHabDecades}
];

/* ---------- helpers ---------- */
function svgEl(tag, attrs, parent) {
  const el = document.createElementNS(NS, tag);
  for (const k in attrs) el.setAttribute(k, attrs[k]);
  parent.appendChild(el);
  return el;
}
function ramp(x, pts) {
  for (let i = 1; i < pts.length; i++) {
    if (x <= pts[i][0]) {
      const a = pts[i-1], b = pts[i];
      return a[1] + (b[1]-a[1]) * (x-a[0]) / (b[0]-a[0]);
    }
  }
  return pts[pts.length-1][1];
}
function jet(f) {
  const x = Math.max(0, Math.min(1, f));
  const r = ramp(x, [[0,0],[0.35,0],[0.66,1],[0.89,1],[1,0.5]]);
  const g = ramp(x, [[0,0],[0.125,0],[0.375,1],[0.64,1],[0.91,0],[1,0]]);
  const b = ramp(x, [[0,0.5],[0.11,1],[0.34,1],[0.65,0],[1,0]]);
  return 'rgb(' + Math.round(r*255) + ',' + Math.round(g*255) + ',' + Math.round(b*255) + ')';
}

/* ---------- shared defs ---------- */
const defs = document.getElementById('defs');
const jetGradient = svgEl('linearGradient', {id:'jet-gradient', x1:0, y1:1, x2:0, y2:0}, defs);
for (let i = 0; i <= 64; i++) {
  svgEl('stop', {offset:(i/64), 'stop-color':jet(i/64)}, jetGradient);
}

/* ---------- drawing ---------- */
const mapsRoot = document.getElementById('maps');

panelSpecs.forEach(function (spec) {
  const layout = rowLayouts[spec.row];
  const left = layout.lefts[spec.col];
  const right = left + layout.width;
  const top = layout.top;
  const bottom = layout.bottom;
  const xScale = v => left + (v - X_LIM[0]) / (X_LIM[1] - X_LIM[0]) * (right - left);
  const yScale = v => bottom - (v - Y_LIM[0]) / (Y_LIM[1] - Y_LIM[0]) * (bottom - top);
  const colorScale = v => jet((v - spec.lo) / (spec.hi - spec.lo));

  const panel = svgEl('g', {}, mapsRoot);
  
  

  const clipId = 'clip-' + spec.name;
  const clip = svgEl('clipPath', {id:clipId}, defs);
  svgEl('rect', {x:left, y:top, width:right-left, height:bottom-top}, clip);

  const clipped = svgEl('g', {'clip-path':'url(#' + clipId + ')'}, panel);
  
  

  const cells = svgEl('g', {style:'filter:blur(0.45px)', 'shape-rendering':'crispEdges'}, clipped);
  
  

  const cellW = (X_LIM[1] - X_LIM[0]) / N_COLS;
  const cellH = (Y_LIM[1] - Y_LIM[0]) / N_ROWS;
  spec.values.forEach(function (rowValues, r) {
    rowValues.forEach(function (v, c) {
      const x0 = xScale(X_LIM[0] + c * cellW);
      const x1 = xScale(X_LIM[0] + (c + 1) * cellW);
      const y0 = yScale(Y_LIM[1] - r * cellH);
      const y1 = yScale(Y_LIM[1] - (r + 1) * cellH);
      const cell = svgEl('rect', {x:x0, y:y0, width:x1-x0, height:y1-y0, fill:colorScale(v)}, cells);
      
      
    });
  });

  const cx = layout.cx, cy = layout.cy;
  if (layout.showGrey) {
    const s = layout.greySlope;
    const grey = svgEl('line', {
      x1:xScale(cx - s*(Y_LIM[1]-cy)), y1:yScale(Y_LIM[1]),
      x2:xScale(cx + s*(cy-Y_LIM[0])), y2:yScale(Y_LIM[0]),
      stroke:'#8e8e8e', 'stroke-width':layout.greyWidth, 'stroke-dasharray':'7 3'
    }, clipped);
    
    
  }
  const pa = svgEl('line', {
    x1:xScale(cx - 0.365*(Y_LIM[1]-cy)), y1:yScale(Y_LIM[1]),
    x2:xScale(cx + 0.365*(cy-Y_LIM[0])), y2:yScale(Y_LIM[0]),
    stroke:'#000', 'stroke-width':2.2, 'stroke-dasharray':'8 3.5'
  }, clipped);
  
  

  const ring = svgEl('circle', {cx:xScale(cx), cy:yScale(cy), r:1.18*(right-left)/(X_LIM[1]-X_LIM[0]), fill:'none', stroke:'#000', 'stroke-width':1.6}, clipped);
  
  

  const mx = xScale(cx), my = yScale(cy);
  const marker = svgEl('path', {
    d:'M'+(mx-3.6)+' '+(my-3.6)+'L'+(mx+3.6)+' '+(my+3.6)+'M'+(mx+3.6)+' '+(my-3.6)+'L'+(mx-3.6)+' '+(my+3.6)+'M'+mx+' '+(my-4)+'L'+mx+' '+(my+4),
    stroke:'#000', 'stroke-width':2.8, fill:'none'
  }, clipped);
  
  

  const frame = svgEl('rect', {x:left, y:top, width:right-left, height:bottom-top, fill:'none', stroke:'#222', 'stroke-width':1.5}, panel);
  
  

  xTickValues.forEach(function (v, i) {
    const px = xScale(v);
    [top, bottom].forEach(function (edge) {
      const t = svgEl('line', {x1:px, x2:px, y1:edge-3.5, y2:edge+3.5, stroke:'#111', 'stroke-width':1.6}, panel);
      
      
    });
    const label = svgEl('text', {x:px, y:bottom+layout.tickDy, 'text-anchor':'middle', class:'tick'}, panel);
    label.textContent = xTickLabels[i];
    
    
  });

  yTickValues.forEach(function (v, i) {
    const py = yScale(v);
    [left, right].forEach(function (edge) {
      const t = svgEl('line', {x1:edge-3.5, x2:edge+3.5, y1:py, y2:py, stroke:'#111', 'stroke-width':1.6}, panel);
      
      
    });
    if (spec.col === 0) {
      const label = svgEl('text', {x:left-layout.yLabelGap, y:py+6, 'text-anchor':'end', class:'tick'}, panel);
      label.textContent = yTickLabels[i];
      
      
    }
  });

  /* colorbar */
  const cbLeft = right + layout.cbGap;
  const cbWidth = 14.7;
  const cbScale = v => bottom - (v - spec.lo) / (spec.hi - spec.lo) * (bottom - top);
  const bar = svgEl('rect', {x:cbLeft, y:top, width:cbWidth, height:bottom-top, fill:'url(#jet-gradient)', stroke:'#333', 'stroke-width':1.2}, panel);
  
  

  const cbRight = cbLeft + cbWidth;
  if (spec.kind === SCALE_LINEAR) {
    spec.ticks.forEach(function (v) {
      const py = cbScale(v);
      const t = svgEl('line', {x1:cbRight, x2:cbRight+5.5, y1:py, y2:py, stroke:'#111', 'stroke-width':1.4}, panel);
      
      
      const label = svgEl('text', {x:cbRight+10.5, y:py+6, class:'tick'}, panel);
      label.textContent = spec.fmt(v).replace('-', '−');
      
      
    });
  } else {
    const toStored = exp => 10 * (exp + 17);
    for (let d = -18; d <= -13; d++) {
      for (let m = 2; m <= 9; m++) {
        const st = toStored(d + Math.log10(m));
        if (st < spec.lo || st > spec.hi) continue;
        const py = cbScale(st);
        const t = svgEl('line', {x1:cbRight, x2:cbRight+3, y1:py, y2:py, stroke:'#111', 'stroke-width':1}, panel);
        
        
      }
    }
    spec.ticks.forEach(function (exp) {
      const py = cbScale(toStored(exp));
      const t = svgEl('line', {x1:cbRight, x2:cbRight+5.5, y1:py, y2:py, stroke:'#111', 'stroke-width':1.4}, panel);
      
      
      const label = svgEl('text', {x:cbRight+10.5, y:py+7, class:'tick', 'font-size':'17'}, panel);
      label.textContent = '10';
      
      
      const sup = svgEl('tspan', {dy:-7, 'font-size':'12'}, label);
      sup.textContent = '−' + Math.abs(exp);
    });
  }
});
</script>
</body>
</html>
